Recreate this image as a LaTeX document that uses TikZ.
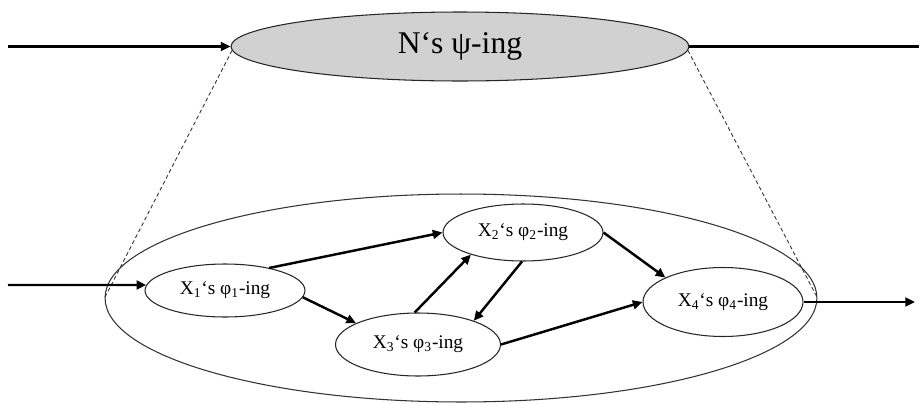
\documentclass[tikz,border=0pt]{standalone}
\usepackage{fontspec}
\setmainfont{Liberation Serif}
\usetikzlibrary{shapes.geometric,arrows.meta}

\tikzset{
    phase/.style={shape=ellipse,draw=black!85,line width=0.6pt,inner sep=2pt,font=\fontsize{11}{13}\selectfont},
    flow/.style={line width=1.4pt,-{Triangle[length=5.5pt,width=5pt]}},
    zoomline/.style={dash pattern=on 2.2pt off 1.6pt,line width=0.5pt,draw=black!80}
}

\begin{document}
\begin{tikzpicture}[x=0.02cm,y=-0.02cm]
    \useasboundingbox (0,0) rectangle (921,403);

    \node[shape=ellipse,draw=black!85,fill=black!18,line width=0.6pt,minimum width=9.16cm,minimum height=1.38cm,font=\fontsize{18}{21}\selectfont] (N psi) at (460,46.5) {N‘s ψ-ing};
    \node[shape=ellipse,draw=black!80,line width=0.6pt,minimum width=14.24cm,minimum height=4.16cm] (Mechanism) at (461,298) {};

    \node[phase,minimum width=3.2cm,minimum height=1.06cm] (X1 phi) at (225,290.5) {X\textsubscript{1}‘s φ\textsubscript{1}-ing};
    \node[phase,minimum width=3.2cm,minimum height=1.14cm] (X2 phi) at (523,232.5) {X\textsubscript{2}‘s φ\textsubscript{2}-ing};
    \node[phase,minimum width=3.3cm,minimum height=1.26cm] (X3 phi) at (418,344.5) {X\textsubscript{3}‘s φ\textsubscript{3}-ing};
    \node[phase,minimum width=3.2cm,minimum height=1.38cm] (X4 phi) at (723,302) {X\textsubscript{4}‘s φ\textsubscript{4}-ing};

    \coordinate (top in) at (8,46.5);
    \coordinate (top out) at (919,46.5);
    \coordinate (in) at (8,285);
    \coordinate (out) at (915,302);

    \path [flow] (top in) edge node {} (N psi.west);
    \draw [line width=1.4pt] (N psi.east) -- (top out);
    \path [zoomline] (N psi.181) edge node {} (Mechanism.west);
    \path [zoomline] (N psi.-1) edge node {} (Mechanism.east);

    \path [flow] (in) edge node {} (X1 phi.176);
    \path [flow] (X1 phi.27) edge node {} (X2 phi.west);
    \path [flow] (X1 phi.-5) edge node {} (X3 phi.161);
    \path [flow] (X3 phi.96) edge node {} (X2 phi.203);
    \path [flow] (X2 phi.268) edge node {} (X3 phi.23);
    \path [flow] (X2 phi.east) edge node {} (X4 phi.157);
    \path [flow] (X3 phi.east) edge node {} (X4 phi.west);
    \path [flow] (X4 phi.east) edge node {} (out);
\end{tikzpicture}
\end{document}
